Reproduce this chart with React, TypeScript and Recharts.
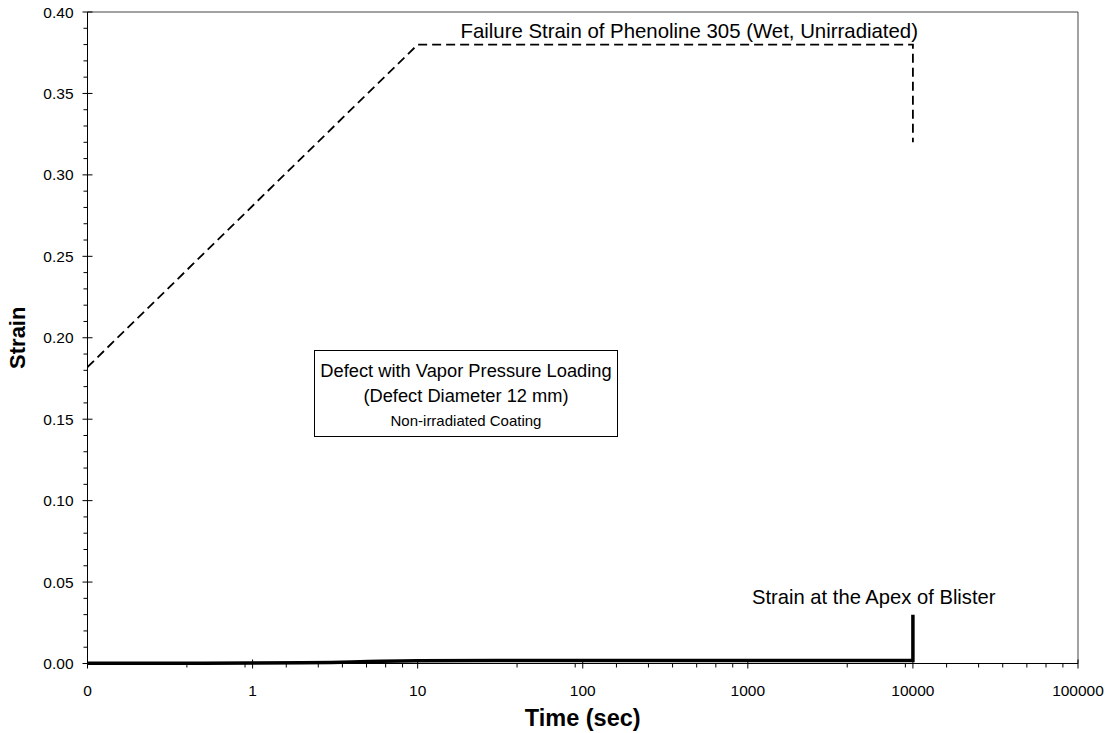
import React from 'react';
import { LineChart, Line, XAxis, YAxis, ReferenceArea, Label } from 'recharts';

// time axis (log scale), the lowest decade is labelled "0"
const xMajorTicks = [0.1, 1, 10, 100, 1000, 10000, 100000];
const xTickLabels = ['0', '1', '10', '100', '1000', '10000', '100000'];
const xMinorTicks = [
  0.4, 0.9,
  1.6, 2.5, 3.5, 4.9, 6.4, 8.1,
  40, 90,
  160, 250, 350, 490, 640, 810,
  4000, 9000,
  16000, 25000, 35000, 49000, 64000, 81000,
];

const yMajorTicks = [0, 0.05, 0.1, 0.15, 0.2, 0.25, 0.3, 0.35, 0.4];
const yMinorStep = 0.01;

// failure strain of the coating (dashed envelope)
const failureTime = [0.1, 10, 10000, 10000];
const failureStrain = [0.182, 0.38, 0.38, 0.32];

// strain at the apex of the blister
const apexTime = [0.1, 0.5, 1, 2, 3, 4, 5, 6, 8, 10, 30, 100, 1000, 5000, 10000, 10000];
const apexStrain = [0.0002, 0.0002, 0.0003, 0.0004, 0.0006, 0.0009, 0.0012, 0.0014, 0.0016, 0.0017, 0.0018, 0.0018, 0.0018, 0.0018, 0.0018, 0.03];

const failureData = failureTime.map((t, i) => ({ t, v: failureStrain[i] }));
const apexData = apexTime.map((t, i) => ({ t, v: apexStrain[i] }));

const yTicks: number[] = [];
for (let k = 0; k <= 40; k++) yTicks.push(Math.round(k * yMinorStep * 100) / 100);
const xTicks = [...xMajorTicks, ...xMinorTicks].sort((a, b) => a - b);

const FONT = '"Liberation Sans", Arial, sans-serif';
const W = 1114;
const H = 733;

const XTick = ({ x, y, payload }: any) => {
  const i = xMajorTicks.indexOf(payload.value);
  if (i < 0) return <line x1={x} x2={x} y1={y} y2={y + 4} stroke="#000" />;
  return (
    <g>
      <line x1={x} x2={x} y1={y - 4} y2={y + 5} stroke="#000" />
      <text x={x} y={y + 27} textAnchor="middle" dominantBaseline="central" fontSize={15.5} fontFamily={FONT} fill="#000">
        {xTickLabels[i]}
      </text>
    </g>
  );
};

const YTick = ({ x, y, payload }: any) => {
  const v = payload.value;
  const major = yMajorTicks.some(m => Math.abs(m - v) < 1e-6);
  if (!major) return <line x1={x - 4} x2={x} y1={y} y2={y} stroke="#000" />;
  return (
    <g>
      <line x1={x - 5} x2={x + 5} y1={y} y2={y} stroke="#000" />
      <text x={x - 14} y={y} textAnchor="end" dominantBaseline="central" fontSize={15.5} fontFamily={FONT} fill="#000">
        {v.toFixed(2)}
      </text>
    </g>
  );
};

const note: React.CSSProperties = { position: 'absolute', fontFamily: FONT, color: '#000', whiteSpace: 'nowrap', lineHeight: '24px' };

export default function App() {
  return (
    <div style={{ position: 'relative', width: W, height: H, margin: '-8px 0 0 -8px' }}>
      <LineChart width={W} height={H} margin={{ top: 12, right: 36, bottom: 39.5, left: 0 }}>
        <XAxis
          dataKey="t"
          type="number"
          scale="log"
          domain={[0.1, 100000]}
          ticks={xTicks}
          interval={0}
          allowDataOverflow
          tick={<XTick />}
          tickLine={false}
          tickSize={0}
          tickMargin={0}
          height={30}
          axisLine={{ stroke: '#000' }}
        >
          <Label
            content={({ viewBox }: any) => (
              <text x={viewBox.x + viewBox.width / 2} y={viewBox.y + 54} textAnchor="middle" dominantBaseline="central" fontSize={23.5} fontWeight="bold" fontFamily={FONT}>
                Time (sec)
              </text>
            )}
          />
        </XAxis>
        <YAxis
          dataKey="v"
          type="number"
          domain={[0, 0.4]}
          ticks={yTicks}
          interval={0}
          tick={<YTick />}
          tickLine={false}
          tickSize={0}
          tickMargin={0}
          width={87.5}
          axisLine={{ stroke: '#000' }}
        >
          <Label
            content={({ viewBox }: any) => {
              const cx = 17.5;
              const cy = viewBox.y + viewBox.height / 2;
              return (
                <text x={cx} y={cy} transform={`rotate(-90 ${cx} ${cy})`} textAnchor="middle" dominantBaseline="central" fontSize={22} fontWeight="bold" fontFamily={FONT}>
                  Strain
                </text>
              );
            }}
          />
        </YAxis>
        <ReferenceArea x1={0.1} x2={100000} y1={0} y2={0.4} fill="none" stroke="#444" strokeWidth={1} />
        <Line
          data={failureData}
          dataKey="v"
          type="linear"
          stroke="#000"
          strokeWidth={1.8}
          strokeDasharray="9 5"
          dot={false}
          isAnimationActive={false}
        />
        <Line
          data={apexData}
          dataKey="v"
          type="linear"
          stroke="#000"
          strokeWidth={3.5}
          dot={false}
          isAnimationActive={false}
        />
      </LineChart>

      <div style={{ ...note, right: W - 918, top: 19, fontSize: 20.4 }}>
        Failure Strain of Phenoline 305 (Wet, Unirradiated)
      </div>
      <div style={{ ...note, left: 752, top: 585, fontSize: 20.2 }}>Strain at the Apex of Blister</div>
      <div
        style={{
          position: 'absolute',
          left: 314,
          top: 350,
          width: 304,
          height: 87,
          border: '1px solid #000',
          background: '#fff',
          fontFamily: FONT,
          textAlign: 'center',
          whiteSpace: 'nowrap',
          paddingTop: 7,
          boxSizing: 'border-box',
        }}
      >
        <div style={{ fontSize: 18.3, lineHeight: '25px' }}>Defect with Vapor Pressure Loading</div>
        <div style={{ fontSize: 18.3, lineHeight: '25px' }}>(Defect Diameter 12 mm)</div>
        <div style={{ fontSize: 15, lineHeight: '26px' }}>Non-irradiated Coating</div>
      </div>
    </div>
  );
}
